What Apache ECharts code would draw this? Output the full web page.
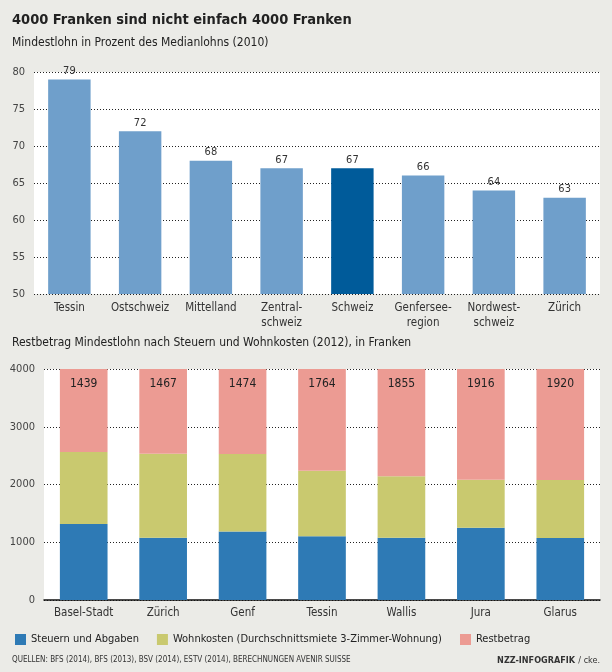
<!DOCTYPE html>
<html>
<head>
<meta charset="utf-8">
<script src="https://cdn.jsdelivr.net/npm/echarts@6/dist/echarts.min.js"></script>
<style>
  html, body { margin: 0; padding: 0; background: #ebebe7; }
  #chart { width: 612px; height: 672px; }
</style>
</head>
<body>
<div id="chart"></div>
<script>
const FONT = '"Liberation Sans Narrow", "DejaVu Sans Condensed", sans-serif';

// Mindestlohn in Prozent des Medianlohns (2010)
const regions = ['Tessin', 'Ostschweiz', 'Mittelland', 'Zentral-\nschweiz', 'Schweiz',
  'Genfersee-\nregion', 'Nordwest-\nschweiz', 'Zürich'];
const ratio = [79, 72, 68, 67, 67, 66, 64, 63];
const highlight = 'Schweiz';

// Restbetrag nach Steuern und Wohnkosten (2012), in Franken
const cantons = ['Basel-Stadt', 'Zürich', 'Genf', 'Tessin', 'Wallis', 'Jura', 'Glarus'];
const steuern = [1317, 1080, 1184, 1104, 1080, 1253, 1075];
const wohnkosten = [1244, 1453, 1342, 1132, 1065, 831, 1005];
const restbetrag = [1439, 1467, 1474, 1764, 1855, 1916, 1920];

const seriesNames = ['Steuern und Abgaben', 'Wohnkosten (Durchschnittsmiete 3-Zimmer-Wohnung)', 'Restbetrag'];
const colors = ['#2e7ab5', '#c9c96f', '#ec9b93'];

const dotted = { color: '#222', width: 1, type: [1, 2] };

const chart = echarts.init(document.getElementById('chart'));

const options = {
  backgroundColor: '#ebebe7',
  textStyle: { fontFamily: FONT },
  animation: false,
  title: [
    {
      text: '4000 Franken sind nicht einfach 4000 Franken',
      left: 12, top: 13, padding: 0,
      textStyle: { fontFamily: FONT, fontSize: 14.5, fontWeight: 'bold', color: '#222' },
    },
    {
      text: 'Mindestlohn in Prozent des Medianlohns (2010)',
      left: 12, top: 37, padding: 0,
      textStyle: { fontFamily: FONT, fontSize: 12, fontWeight: 'normal', color: '#222' },
    },
    {
      text: 'Restbetrag Mindestlohn nach Steuern und Wohnkosten (2012), in Franken',
      left: 12, top: 337, padding: 0,
      textStyle: { fontFamily: FONT, fontSize: 12, fontWeight: 'normal', color: '#222' },
    },
  ],
  legend: {
    data: seriesNames,
    left: 15, top: 634, padding: 0,
    itemWidth: 11, itemHeight: 11, itemGap: 18,
    icon: 'rect',
    textStyle: { fontFamily: FONT, fontSize: 11, color: '#222' },
  },
  grid: [
    { left: 34, right: 12, top: 72, bottom: 378, show: true, backgroundColor: '#fff', borderWidth: 0 },
    { left: 44, right: 12, top: 369, bottom: 72, show: true, backgroundColor: '#fff', borderWidth: 0 },
  ],
  xAxis: [
    {
      type: 'category', gridIndex: 0, data: regions,
      axisLine: { show: false }, axisTick: { show: false },
      axisLabel: { color: '#333', fontSize: 11.5, lineHeight: 15, margin: 7, interval: 0 },
    },
    {
      type: 'category', gridIndex: 1, data: cantons,
      axisLine: { show: true, lineStyle: { color: '#111', width: 1.5 } }, axisTick: { show: false },
      axisLabel: { color: '#333', fontSize: 11.5, margin: 7, interval: 0 },
    },
  ],
  yAxis: [
    {
      type: 'value', gridIndex: 0, min: 50, max: 80, interval: 5,
      axisLine: { show: false }, axisTick: { show: false },
      axisLabel: { color: '#444', fontSize: 11, margin: 9 },
      splitLine: { show: true, lineStyle: dotted },
    },
    {
      type: 'value', gridIndex: 1, min: 0, max: 4000, interval: 1000,
      axisLine: { show: false }, axisTick: { show: false },
      axisLabel: { color: '#444', fontSize: 11, margin: 9, formatter: (v) => String(v) },
      splitLine: { show: true, lineStyle: dotted },
    },
  ],
  series: [
    {
      type: 'bar', xAxisIndex: 0, yAxisIndex: 0,
      barWidth: '60%',
      data: ratio.map((v, i) => ({
        value: v,
        itemStyle: { color: regions[i] === highlight ? '#005b9a' : '#6f9fcb' },
      })),
      label: { show: true, position: 'top', distance: 3, color: '#333', fontSize: 11 },
    },
    {
      name: seriesNames[0], type: 'bar', xAxisIndex: 1, yAxisIndex: 1,
      stack: 'rest', barWidth: '60%', data: steuern,
      itemStyle: { color: colors[0] },
    },
    {
      name: seriesNames[1], type: 'bar', xAxisIndex: 1, yAxisIndex: 1,
      stack: 'rest', barWidth: '60%', data: wohnkosten,
      itemStyle: { color: colors[1] },
    },
    {
      name: seriesNames[2], type: 'bar', xAxisIndex: 1, yAxisIndex: 1,
      stack: 'rest', barWidth: '60%', data: restbetrag,
      itemStyle: { color: colors[2] },
      label: { show: true, position: 'insideTop', distance: 9, color: '#222', fontSize: 12 },
    },
  ],
  graphic: [
    {
      type: 'text', left: 12, top: 656,
      style: {
        text: 'QUELLEN: BFS (2014), BFS (2013), BSV (2014), ESTV (2014), BERECHNUNGEN AVENIR SUISSE',
        font: '8px ' + FONT, fill: '#333',
      },
    },
    {
      type: 'text', right: 12, top: 655,
      style: {
        text: '{b|NZZ-INFOGRAFIK} {n|/ cke.}',
        rich: {
          b: { font: 'bold 9px ' + FONT, fill: '#333' },
          n: { font: '9px ' + FONT, fill: '#333' },
        },
      },
    },
  ],
};

chart.setOption(options);
</script>
</body>
</html>
